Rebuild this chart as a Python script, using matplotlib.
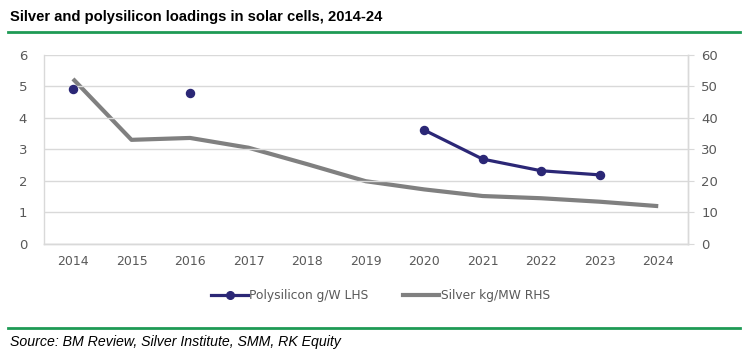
import numpy as np
import matplotlib.pyplot as plt
from matplotlib.lines import Line2D

## data #########################################################################
years = ['2014', '2015', '2016', '2017', '2018', '2019', '2020', '2021', '2022', '2023', '2024']
polysilicon = [4.92, np.nan, 4.79, np.nan, np.nan, np.nan, 3.61, 2.69, 2.32, 2.19, np.nan]
silver = [52.3, 33.0, 33.6, 30.5, 25.3, 19.9, 17.3, 15.2, 14.5, 13.4, 12.0]

left_ticks = [0, 1, 2, 3, 4, 5, 6]
right_ticks = [0, 10, 20, 30, 40, 50, 60]

title = 'Silver and polysilicon loadings in solar cells, 2014-24'
source = 'Source: BM Review, Silver Institute, SMM, RK Equity'

navy = '#2B2776'
grey = '#808080'
green = '#1E9A55'
tickgrey = '#595959'
gridgrey = '#D9D9D9'

plt.rcParams['font.family'] = ['DejaVu Sans']

fig = plt.figure(figsize=(7.46, 3.59), dpi=100)
ax1 = fig.add_axes([0.0586, 0.3203, 0.9216 - 0.0586, 0.8479 - 0.3203])
ax2 = ax1.twinx()

x = np.arange(len(years))

ax1.set_xlim(-0.5, len(years) - 0.5)
ax1.set_ylim(0, 6)
ax2.set_ylim(0, 60)
ax1.set_yticks(left_ticks)
ax2.set_yticks(right_ticks)
ax1.set_xticks(x)
ax1.set_xticklabels(years)

ax1.grid(axis='y', color=gridgrey, linewidth=1.0)
ax1.set_axisbelow(True)

# silver on the right axis, drawn under the polysilicon line
ax1.set_zorder(ax2.get_zorder() + 1)
ax1.patch.set_visible(False)
ax2.plot(x, silver, color=grey, linewidth=3.0, solid_capstyle='butt')
ax1.plot(x, polysilicon, color=navy, linewidth=2.3, marker='o', markersize=5.8)

for a in (ax1, ax2):
	for s in a.spines.values():
		s.set_color(gridgrey)
		s.set_linewidth(1.0)
	a.spines['top'].set_visible(False)

ax1.tick_params(axis='x', length=0, pad=8, labelsize=9, labelcolor=tickgrey)
ax1.tick_params(axis='y', length=0, pad=12, labelsize=9.5, labelcolor=tickgrey)
ax2.tick_params(axis='y', length=4, color=gridgrey, pad=6, labelsize=9.5, labelcolor=tickgrey)
ax2.spines['left'].set_visible(False)

# legend
handles = [Line2D([], [], color=navy, linewidth=2.3, marker='o', markersize=5.5),
		Line2D([], [], color=grey, linewidth=3.0)]
fig.legend(handles, ['Polysilicon g/W LHS', 'Silver kg/MW RHS'], loc='center',
		bbox_to_anchor=(0.51, 1 - 296 / 359), ncol=2, frameon=False,
		fontsize=8.8, handlelength=3.0, handletextpad=0.1, columnspacing=2.8,
		labelcolor=tickgrey)

# title, rules and source
fig.text(10 / 746, 1 - 17 / 359, title, fontsize=10.6, fontweight='bold',
		family=['Liberation Sans Narrow', 'Liberation Sans', 'DejaVu Sans'], va='center', ha='left')
fig.add_artist(Line2D([8 / 746, 740 / 746], [1 - 32 / 359, 1 - 32 / 359], color=green, linewidth=2))
fig.add_artist(Line2D([8 / 746, 740 / 746], [1 - 328 / 359, 1 - 328 / 359], color=green, linewidth=2))
fig.text(10 / 746, 1 - 342 / 359, source, fontsize=10.2, style='italic',
		family=['Liberation Sans', 'DejaVu Sans'], va='center', ha='left')

plt.savefig('out.png', dpi=100)
